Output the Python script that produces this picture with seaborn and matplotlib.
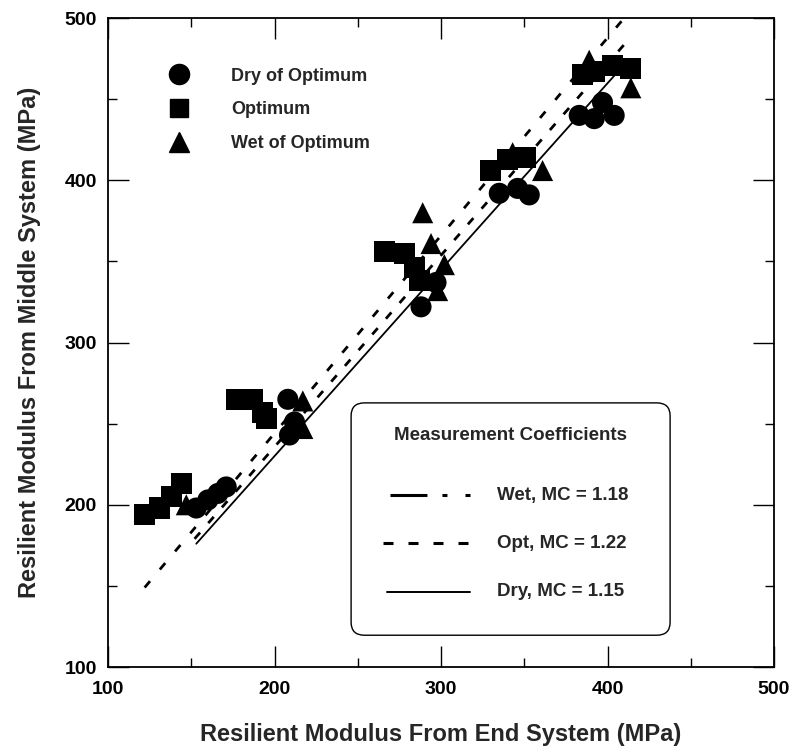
"""Resilient modulus measured by the middle vs. end LVDT systems,
grouped by moisture condition, with measurement-coefficient fit lines."""

import pandas as pd
import seaborn as sns
import matplotlib.pyplot as plt
from matplotlib.lines import Line2D
from matplotlib.patches import FancyBboxPatch
from matplotlib.ticker import MultipleLocator

sns.set_style("ticks")
plt.rcParams["font.family"] = ["Liberation Sans", "DejaVu Sans"]
plt.rcParams["font.weight"] = "bold"
plt.rcParams["axes.labelweight"] = "bold"
plt.rcParams["lines.scale_dashes"] = False

# --- values (MPa) ---------------------------------------------------------
DRY_END = [153, 160, 166, 171, 208, 212, 209, 288, 297, 335, 346, 353,
           383, 392, 397, 404]
DRY_MID = [198, 203, 207, 211, 265, 251, 243, 322, 337, 392, 395, 391,
           440, 438, 448, 440]

OPT_END = [122, 131, 138, 144, 177, 187, 193, 195, 266, 278, 284, 287,
           330, 340, 351, 385, 392, 403, 414]
OPT_MID = [194, 198, 205, 213, 265, 265, 257, 253, 356, 355, 346, 338,
           406, 413, 414, 465, 467, 471, 469]

WET_END = [147, 217, 217, 289, 294, 302, 298, 343, 361, 389, 414]
WET_MID = [200, 264, 247, 380, 361, 348, 332, 417, 406, 474, 457]

CONDITIONS = ["Dry of Optimum", "Optimum", "Wet of Optimum"]
MARKERS = {"Dry of Optimum": "o", "Optimum": "s", "Wet of Optimum": "^"}

# fitted lines (end points)
WET_LINE_X, WET_LINE_Y = [152, 412], [179, 486]
OPT_LINE_X, OPT_LINE_Y = [122, 410], [149, 500]
DRY_LINE_X, DRY_LINE_Y = [153, 408], [176, 469]

FIT_LABELS = ["Wet, MC = 1.18", "Opt, MC = 1.22", "Dry, MC = 1.15"]

df = pd.concat([
    pd.DataFrame({"end": DRY_END, "mid": DRY_MID, "cond": CONDITIONS[0]}),
    pd.DataFrame({"end": OPT_END, "mid": OPT_MID, "cond": CONDITIONS[1]}),
    pd.DataFrame({"end": WET_END, "mid": WET_MID, "cond": CONDITIONS[2]}),
], ignore_index=True)

fig = plt.figure(figsize=(7.89, 7.52), dpi=100)
ax = fig.add_axes([0.1369, 0.1130, 0.8441, 0.8630])

# fit lines
ax.plot(OPT_LINE_X, OPT_LINE_Y, color="black", lw=2.0, dashes=(6, 11),
        zorder=2)
ax.plot(WET_LINE_X, WET_LINE_Y, color="black", lw=2.0, dashes=(6, 9),
        zorder=2)
ax.plot(DRY_LINE_X, DRY_LINE_Y, color="black", lw=1.3, zorder=2)

sns.scatterplot(data=df, x="end", y="mid", style="cond",
                style_order=CONDITIONS, markers=MARKERS, color="black",
                s=230, linewidth=0, legend=False, ax=ax, zorder=3)

ax.set_xlim(100, 500)
ax.set_ylim(100, 500)
ax.xaxis.set_major_locator(MultipleLocator(100))
ax.xaxis.set_minor_locator(MultipleLocator(50))
ax.yaxis.set_major_locator(MultipleLocator(100))
ax.yaxis.set_minor_locator(MultipleLocator(50))
ax.tick_params(which="both", direction="in", top=True, right=True,
               colors="black", labelsize=14)
ax.tick_params(which="major", length=15, width=1.0)
ax.tick_params(which="minor", length=6.5, width=1.0)
ax.tick_params(axis="x", which="major", pad=10)
ax.tick_params(axis="y", which="major", pad=8)
for sp in ax.spines.values():
    sp.set_linewidth(1.3)
    sp.set_color("black")

ax.set_xlabel("Resilient Modulus From End System (MPa)", fontsize=17)
ax.set_ylabel("Resilient Modulus From Middle System (MPa)", fontsize=17)
ax.xaxis.set_label_coords(0.5, -0.086)
ax.yaxis.set_label_coords(-0.100, 0.5)

# marker legend (upper left, no frame)
handles = [Line2D([], [], ls="none", marker=MARKERS[c], color="black",
                  markersize=14.5 if c != "Optimum" else 13.5)
           for c in CONDITIONS]
ax.legend(handles, CONDITIONS, loc="upper left",
          bbox_to_anchor=(0.0904, 0.9237), frameon=False, fontsize=13,
          handlelength=1.2, handletextpad=2.3, labelspacing=0.93,
          borderpad=0, borderaxespad=0)

# measurement coefficient box
box = FancyBboxPatch((0.365, 0.049), 0.479, 0.358,
                     boxstyle="round,pad=0,rounding_size=0.02",
                     transform=ax.transAxes, facecolor="white",
                     edgecolor="black", lw=1.0, zorder=4)
ax.add_patch(box)
ax.text(0.604, 0.357, "Measurement Coefficients", transform=ax.transAxes,
        ha="center", va="center", fontsize=13.5, zorder=5)

rows_y = [0.265, 0.191, 0.116]
ax.plot([0.4234, 0.5435], [rows_y[0]] * 2, transform=ax.transAxes,
        color="black", lw=2.2, dashes=(26.6, 10.8, 3.6, 13, 3.6, 13),
        zorder=5)
ax.plot([0.4129, 0.5405], [rows_y[1]] * 2, transform=ax.transAxes,
        color="black", lw=2.2, dashes=(7.2, 10.8), zorder=5)
ax.plot([0.4189, 0.5435], [rows_y[2]] * 2, transform=ax.transAxes,
        color="black", lw=1.4, zorder=5)
for y, lbl in zip(rows_y, FIT_LABELS):
    ax.text(0.584, y, lbl, transform=ax.transAxes, ha="left", va="center",
            fontsize=13.5, zorder=5)

fig.savefig("out.png", dpi=100, facecolor="white")
